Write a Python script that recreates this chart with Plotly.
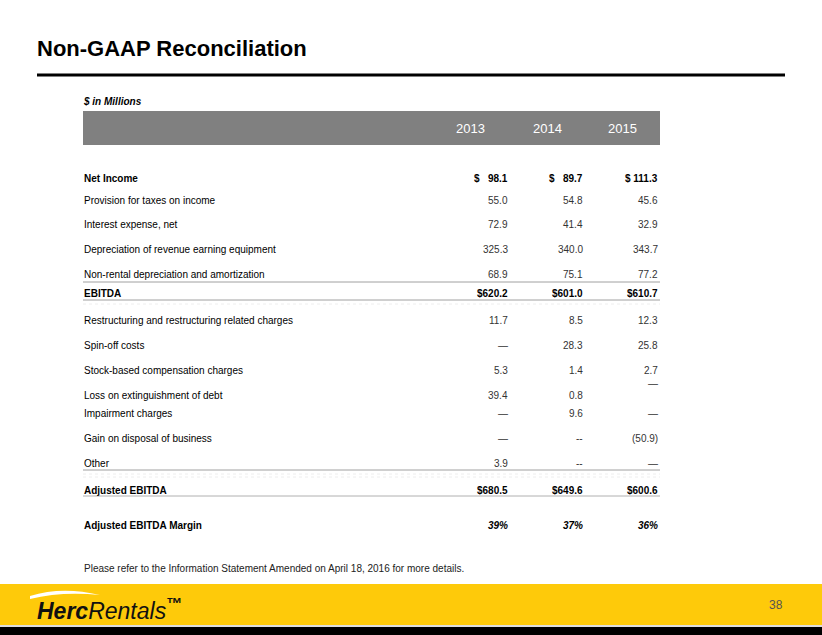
import plotly.graph_objects as go

# ---------------- data ----------------
years = ["2013", "2014", "2015"]
row_labels = [
    "Net Income",
    "Provision for taxes on income",
    "Interest expense, net",
    "Depreciation of revenue earning equipment",
    "Non-rental depreciation and amortization",
    "EBITDA",
    "Restructuring and restructuring related charges",
    "Spin-off costs",
    "Stock-based compensation charges",
    "Loss on extinguishment of debt",
    "Impairment charges",
    "Gain on disposal of business",
    "Other",
    "Adjusted EBITDA",
    "Adjusted EBITDA Margin",
]
vals_2013 = ["$   98.1", "55.0", "72.9", "325.3", "68.9", "$620.2", "11.7", "—", "5.3", "39.4", "—", "—", "3.9", "$680.5", "39%"]
vals_2014 = ["$   89.7", "54.8", "41.4", "340.0", "75.1", "$601.0", "8.5", "28.3", "1.4", "0.8", "9.6", "--", "--", "$649.6", "37%"]
vals_2015 = ["$ 111.3", "45.6", "32.9", "343.7", "77.2", "$610.7", "12.3", "25.8", "2.7", "—", "—", "(50.9)", "—", "$600.6", "36%"]
bold_rows = ["Net Income", "EBITDA", "Adjusted EBITDA", "Adjusted EBITDA Margin"]

title = "Non-GAAP Reconciliation"
units = "$ in Millions"
note = "Please refer to the Information Statement Amended on April 18, 2016 for more details."
page_no = "38"

# ---------------- layout ----------------
W, H = 822, 635
row_y = [178, 200, 224, 249, 274, 293, 320, 345, 370, 395, 413, 438, 463, 490, 525]
col_x = [510, 585, 660]
year_x = [470, 547, 622]
FONT = "Liberation Sans, Arial, sans-serif"
NARROW = "Liberation Sans Narrow, Arial Narrow, Liberation Sans, Arial, sans-serif"

fig = go.Figure()
fig.add_trace(go.Scatter(x=[0, W], y=[0, H], mode="markers", marker=dict(opacity=0), hoverinfo="skip", showlegend=False))

shapes = []
ann = []

# title + rule
ann.append(dict(x=35, y=48, text="<b>" + title + "</b>", xanchor="left", yanchor="middle",
                font=dict(family=FONT, size=22, color="#000000")))
shapes.append(dict(type="line", x0=37, x1=785, y0=75, y1=75, line=dict(color="#000000", width=3)))

ann.append(dict(x=81, y=101, text="<b><i>" + units + "</i></b>", xanchor="left", yanchor="middle",
                font=dict(family=FONT, size=10, color="#000000")))

# header band
shapes.append(dict(type="rect", x0=83, x1=660, y0=111, y1=145, fillcolor="#808080", line=dict(width=0), layer="below"))
for yx, yr in zip(year_x, years):
    ann.append(dict(x=yx, y=128, text=yr, xanchor="center", yanchor="middle",
                    font=dict(family=FONT, size=13, color="#ffffff")))

# rows
for i, lab in enumerate(row_labels):
    y = row_y[i]
    bold = lab in bold_rows
    narrow = lab in ("Adjusted EBITDA", "Adjusted EBITDA Margin", "EBITDA")
    ltxt = "<b>" + lab + "</b>" if bold else lab
    ann.append(dict(x=82, y=y, text=ltxt, xanchor="left", yanchor="middle",
                    font=dict(family=NARROW if lab.startswith("Adjusted") else FONT, size=10, color="#000000")))
    for cx, vals in zip(col_x, [vals_2013, vals_2014, vals_2015]):
        v = vals[i]
        yy = y
        if lab == "Loss on extinguishment of debt" and cx == col_x[2]:
            yy = y - 12
        if bold:
            v = "<b>" + v + "</b>"
        if lab == "Adjusted EBITDA Margin":
            v = "<i>" + v + "</i>"
        ann.append(dict(x=cx, y=yy, text=v, xanchor="right", yanchor="middle",
                        font=dict(family=NARROW if (narrow or i == 0) else FONT, size=10,
                                  color="#000000" if bold else "#333333")))

# rules
for yl, col in [(282, "#a0a0a0"), (300, "#a0a0a0"), (470, "#a0a0a0"), (496, "#b0b0b0")]:
    shapes.append(dict(type="line", x0=83, x1=660, y0=yl, y1=yl, line=dict(color=col, width=1)))
for yl in [304, 474, 477]:
    shapes.append(dict(type="line", x0=83, x1=660, y0=yl, y1=yl, line=dict(color="#eeeeee", width=1, dash="dot")))

ann.append(dict(x=82, y=568, text=note, xanchor="left", yanchor="middle",
                font=dict(family=FONT, size=10, color="#222222")))

# footer
shapes.append(dict(type="rect", x0=0, x1=W, y0=584, y1=625, fillcolor="#FECA0A", line=dict(width=0)))
shapes.append(dict(type="rect", x0=0, x1=W, y0=625, y1=627, fillcolor="#dddddd", line=dict(width=0)))
shapes.append(dict(type="rect", x0=0, x1=W, y0=627, y1=H, fillcolor="#000000", line=dict(width=0)))
shapes.append(dict(type="path", path="M 30,596 Q 62,586 100,595 Q 62,591 30,599 Z", fillcolor="#ffffff", line=dict(width=0)))
ann.append(dict(x=35, y=609, text="<b><i>Herc</i></b><i>Rentals</i><sup><b>™</b></sup>", xanchor="left", yanchor="middle",
                font=dict(family=FONT, size=23, color="#111111")))
ann.append(dict(x=785, y=605, text=page_no, xanchor="right", yanchor="middle",
                font=dict(family=FONT, size=12, color="#555555")))

for a in ann:
    a.update(xref="x", yref="y", showarrow=False)
for s in shapes:
    s.update(xref="x", yref="y")

fig.update_layout(
    width=W, height=H, margin=dict(l=0, r=0, t=0, b=0),
    paper_bgcolor="#ffffff", plot_bgcolor="#ffffff",
    xaxis=dict(range=[0, W], visible=False, fixedrange=True),
    yaxis=dict(range=[H, 0], visible=False, fixedrange=True),
    shapes=shapes, annotations=ann, showlegend=False,
)
fig.write_html("out.html", config={"displayModeBar": False},
               post_script="document.body.style.margin='0px';document.body.style.overflow='hidden';")
